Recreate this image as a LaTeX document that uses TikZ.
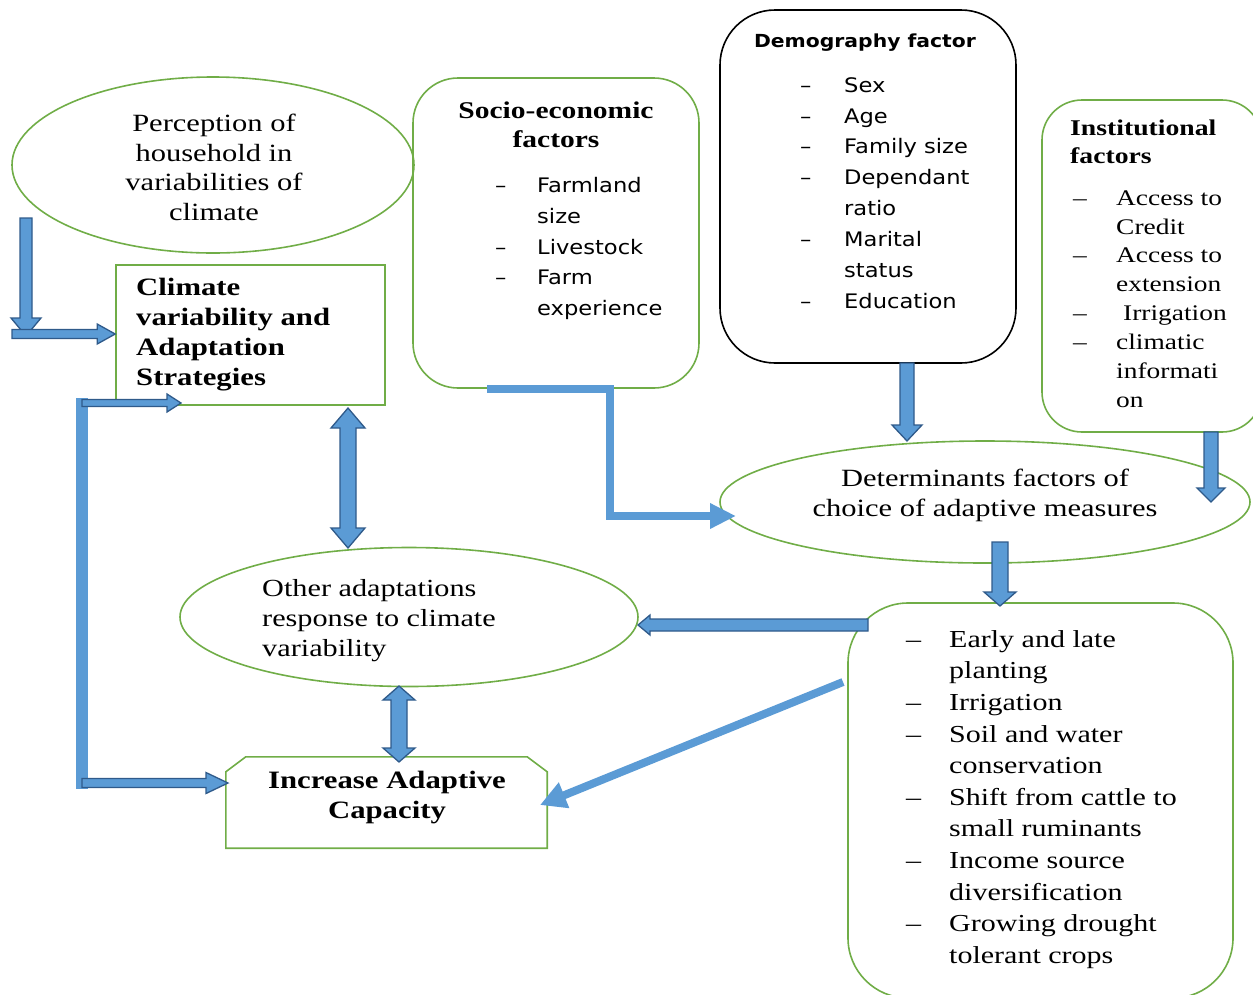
\documentclass[tikz,border=0pt]{standalone}
\usepackage{fontspec}
\setmainfont{Liberation Serif}[FakeStretch=1.23]
\newfontfamily\sansf{DejaVu Sans}[FakeStretch=1.13]
\usetikzlibrary{calc,shapes.geometric,arrows.meta}
\definecolor{gr}{HTML}{70AD47}
\definecolor{bfill}{HTML}{5B9BD5}
\definecolor{bedge}{HTML}{2F5A8A}
\newcommand\fs[2]{\fontsize{#1}{#2}\selectfont}
% block arrow: from, to, shaft half, head half, head length
\newcommand\blkarrow[5]{%
  \coordinate (bkH) at ($(#2)!#5!(#1)$);
  \filldraw[barrow] ($(#1)!#3!90:(#2)$) -- ($(bkH)!#3!90:(#2)$) -- ($(bkH)!#4!90:(#2)$) -- (#2)
    -- ($(bkH)!#4!-90:(#2)$) -- ($(bkH)!#3!-90:(#2)$) -- ($(#1)!#3!-90:(#2)$) -- cycle;}
\newcommand\dblarrow[5]{%
  \coordinate (bkH) at ($(#2)!#5!(#1)$);
  \coordinate (bkG) at ($(#1)!#5!(#2)$);
  \filldraw[barrow] (#1) -- ($(bkG)!#4!-90:(#2)$) -- ($(bkG)!#3!-90:(#2)$) -- ($(bkH)!#3!90:(#1)$)
    -- ($(bkH)!#4!90:(#1)$) -- (#2) -- ($(bkH)!#4!-90:(#1)$) -- ($(bkH)!#3!-90:(#1)$)
    -- ($(bkG)!#3!90:(#2)$) -- ($(bkG)!#4!90:(#2)$) -- cycle;}
\tikzset{
  barrow/.style={fill=bfill,draw=bedge,line width=1.3pt,line join=miter},
  gbox/.style={draw=gr,line width=1.6pt,inner sep=0pt},
  thick line/.style={draw=bfill,line width=8pt},
  txt/.style={inner sep=0pt},
}
\begin{document}
\begin{tikzpicture}[x=1pt,y=-1pt]
\useasboundingbox (0,0) rectangle (1253,994);
% ---- shapes
\node[gbox,ellipse,minimum width=402pt,minimum height=176pt] (perc) at (213,165) {};
\node[gbox,rectangle,minimum width=269pt,minimum height=140pt] (cvas) at (250.5,335) {};
\node[gbox,rectangle,rounded corners=45pt,minimum width=286pt,minimum height=310pt] (socio) at (556,233) {};
\node[draw=black,line width=1.6pt,inner sep=0pt,rectangle,rounded corners=55pt,minimum width=296pt,minimum height=353pt] (demo) at (868,186.5) {};
\node[gbox,rectangle,rounded corners=40pt,minimum width=220pt,minimum height=332pt] (inst) at (1152,266) {};
\node[gbox,ellipse,minimum width=530pt,minimum height=122pt] (det) at (985,502) {};
\node[gbox,ellipse,minimum width=458pt,minimum height=139pt] (other) at (409,617) {};
\node[inner sep=0pt,minimum width=321pt,minimum height=91pt] (inc) at (386.5,802.5) {};
\draw[draw=gr,line width=1.6pt] ($(inc.north west)+(0,15)$) -- ($(inc.north west)+(20,0)$) -- ($(inc.north east)+(-20,0)$) -- ($(inc.north east)+(0,15)$) -- (inc.south east) -- (inc.south west) -- cycle;
\node[gbox,rectangle,rounded corners=60pt,minimum width=385pt,minimum height=395pt] (meas) at (1040.5,800.5) {};
% ---- texts
\node[txt,align=center,font=\fs{24.8}{29.7}] (tperc) at (214,167.5) {Perception of\\household in\\variabilities of\\climate};
\node[txt,align=left,anchor=west,font=\fs{25}{30}\bfseries] (tcvas) at (136,335) {Climate\\variability and\\Adaptation\\Strategies};
\node[txt,align=center,font=\fs{24}{29}\bfseries] (tsocio) at (556,124.5) {Socio-economic\\factors};
\node[txt,align=left,anchor=west,font=\fs{20}{30.7}\sansf] (bsocio) at (495,248.5) {\makebox[42pt][l]{–}Farmland\\\hspace*{42pt}size\\\makebox[42pt][l]{–}Livestock\\\makebox[42pt][l]{–}Farm\\\hspace*{42pt}experience};
\node[txt,font=\fs{18}{22}\sansf\bfseries] (tdemo) at (865,43) {Demography factor};
\node[txt,align=left,anchor=west,font=\fs{20}{30.9}\sansf] (bdemo) at (800,193) {\makebox[44pt][l]{–}Sex\\\makebox[44pt][l]{–}Age\\\makebox[44pt][l]{–}Family size\\\makebox[44pt][l]{–}Dependant\\\hspace*{44pt}ratio\\\makebox[44pt][l]{–}Marital\\\hspace*{44pt}status\\\makebox[44pt][l]{–}Education};
\node[txt,align=left,anchor=west,font=\fs{22.5}{28}\bfseries] (tinst) at (1070,142) {Institutional\\factors};
\node[txt,align=left,anchor=west,font=\fs{22.3}{28.9}] (binst) at (1073,299) {\makebox[43pt][l]{–}Access to\\\hspace*{43pt}Credit\\\makebox[43pt][l]{–}Access to\\\hspace*{43pt}extension\\\makebox[43pt][l]{–}\hspace*{7pt}Irrigation\\\makebox[43pt][l]{–}climatic\\\hspace*{43pt}informati\\\hspace*{43pt}on};
\node[txt,align=center,font=\fs{24.8}{30}] (tdet) at (985,495) {Determinants factors of\\choice of adaptive measures};
\node[txt,align=left,anchor=west,font=\fs{24.6}{30}] (tother) at (262,621) {Other adaptations\\response to climate\\variability};
\node[txt,align=center,font=\fs{25}{30}\bfseries] (tinc) at (387,798) {Increase Adaptive\\Capacity};
\node[txt,align=left,anchor=west,font=\fs{24.4}{31.6}] (bmeas) at (906,799.5) {\makebox[43pt][l]{–}Early and late\\\hspace*{43pt}planting\\\makebox[43pt][l]{–}Irrigation\\\makebox[43pt][l]{–}Soil and water\\\hspace*{43pt}conservation\\\makebox[43pt][l]{–}Shift from cattle to\\\hspace*{43pt}small ruminants\\\makebox[43pt][l]{–}Income source\\\hspace*{43pt}diversification\\\makebox[43pt][l]{–}Growing drought\\\hspace*{43pt}tolerant crops};
% ---- connector end points
\coordinate (a1s) at (26,218);
\coordinate (a1e) at (26,336);
\coordinate (a2s) at (12,334);
\coordinate (a2e) at (cvas.west |- 0,334);
\coordinate (lcTop) at (82,398);
\coordinate (lcBot) at (82,789);
\coordinate (a3s) at (82,403);
\coordinate (a3e) at (181,403);
\coordinate (a4s) at (82,783);
\coordinate (a4e) at (228,783);
\coordinate (d1s) at (348,408);
\coordinate (d1e) at (348,548);
\coordinate (soS) at (487,389);
\coordinate (soK1) at (610,389);
\coordinate (soK2) at (610,516);
\coordinate (detW) at (736,516);
\coordinate (f1s) at (907,363);
\coordinate (f1e) at (907,441);
\coordinate (g1s) at (1211,432);
\coordinate (g1e) at (1211,502);
\coordinate (h1s) at (1000,542);
\coordinate (h1e) at (1000,606);
\coordinate (i1s) at (868,625);
\coordinate (i1e) at (638,625);
\coordinate (j1s) at (399,686);
\coordinate (j1e) at (399,762);
\coordinate (k1s) at (843,682);
\coordinate (k1e) at (540,805);
% ---- connectors
\blkarrow{a1s}{a1e}{6pt}{15pt}{18pt}
\blkarrow{a2s}{a2e}{4.5pt}{10pt}{18pt}
\draw[draw=bfill,line width=12pt] (lcTop) -- (lcBot);
\blkarrow{a3s}{a3e}{3.5pt}{9pt}{14pt}
\blkarrow{a4s}{a4e}{4.5pt}{10.5pt}{22pt}
\dblarrow{d1s}{d1e}{8pt}{17pt}{20pt}
\draw[thick line,line join=miter,-{Triangle[length=26pt,width=24pt]}] (soS) -- (soK1) -- (soK2) -- (detW);
\blkarrow{f1s}{f1e}{7pt}{15pt}{16pt}
\blkarrow{g1s}{g1e}{7pt}{14pt}{14pt}
\blkarrow{h1s}{h1e}{8pt}{16pt}{14pt}
\blkarrow{i1s}{i1e}{6pt}{10pt}{12pt}
\dblarrow{j1s}{j1e}{8pt}{16pt}{14pt}
\draw[thick line,-{Triangle[length=26pt,width=26pt]}] (k1s) -- (k1e);
\end{tikzpicture}
\end{document}
